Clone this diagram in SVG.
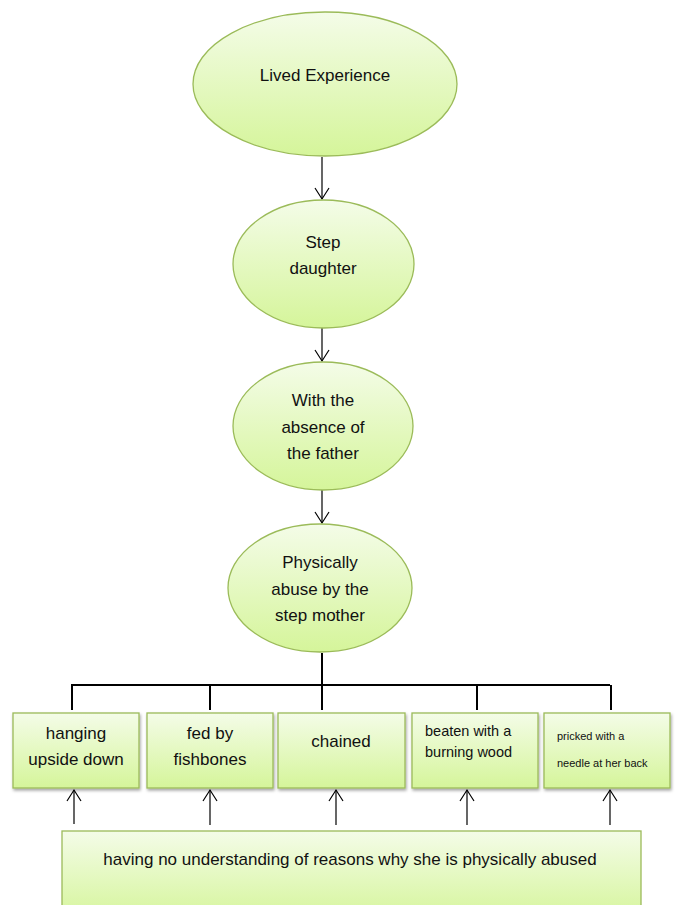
<svg xmlns="http://www.w3.org/2000/svg" width="676" height="905" viewBox="0 0 676 905">
<style>
.n{fill:url(#g);stroke:#9bbb59;stroke-width:1.3}
.t{font-family:"Liberation Sans",Arial,sans-serif;font-size:17px;fill:#111;text-anchor:middle}
.l{text-anchor:start}
.c{stroke:#000;stroke-width:1.2;fill:none}
.k{stroke:#000;stroke-width:2;fill:none}
</style>
<defs>
<linearGradient id="g" x1="0" y1="0" x2="0" y2="1">
<stop offset="0" stop-color="#f4fce8"/>
<stop offset="1" stop-color="#d5f59a"/>
</linearGradient>
<filter id="sh" x="-10%" y="-10%" width="125%" height="130%">
<feDropShadow dx="1" dy="2" stdDeviation="1.5" flood-color="#000" flood-opacity="0.35"/>
</filter>
<marker id="a" markerWidth="16" markerHeight="16" refX="13" refY="8" orient="auto" markerUnits="userSpaceOnUse" viewBox="0 0 16 16">
<path d="M2,1 L13,8 L2,15" fill="none" stroke="#000" stroke-width="1.2"/>
</marker>
</defs>
<g id="connectors">
<line class="c" x1="322" y1="157" x2="322" y2="199" marker-end="url(#a)"/>
<line class="c" x1="322" y1="328" x2="322" y2="361" marker-end="url(#a)"/>
<line class="c" x1="322" y1="490" x2="322" y2="523" marker-end="url(#a)"/>
<path class="k" d="M322,653 V685 M72,710 V685 H610 M210,685 V710 M322,685 V710 M477,685 V710 M611,685 V710"/>
<line class="c" x1="74" y1="824" x2="74" y2="790" marker-end="url(#a)"/>
<line class="c" x1="210" y1="825" x2="210" y2="790" marker-end="url(#a)"/>
<line class="c" x1="336" y1="825" x2="336" y2="790" marker-end="url(#a)"/>
<line class="c" x1="467" y1="825" x2="467" y2="790" marker-end="url(#a)"/>
<line class="c" x1="610" y1="825" x2="610" y2="790" marker-end="url(#a)"/>
</g>
<g id="n1"><ellipse class="n" cx="325" cy="84" rx="132" ry="72"/><text class="t" x="325" y="81">Lived Experience</text></g>
<g id="n2"><ellipse class="n" cx="323.5" cy="264" rx="90.5" ry="64"/><text class="t" x="323" y="248">Step</text><text class="t" x="323" y="274">daughter</text></g>
<g id="n3"><ellipse class="n" cx="323" cy="426" rx="90" ry="64"/><text class="t" x="323" y="406">With the</text><text class="t" x="323" y="433">absence of</text><text class="t" x="323" y="459">the father</text></g>
<g id="n4"><ellipse class="n" cx="320" cy="588" rx="92" ry="64"/><text class="t" x="320" y="568">Physically</text><text class="t" x="320" y="595">abuse by the</text><text class="t" x="320" y="621">step mother</text></g>
<g id="b1"><rect class="n" x="13" y="713" width="126" height="75" filter="url(#sh)"/><text class="t" x="76" y="739">hanging</text><text class="t" x="76" y="765">upside down</text></g>
<g id="b2"><rect class="n" x="147" y="713" width="126" height="75" filter="url(#sh)"/><text class="t" x="210" y="739">fed by</text><text class="t" x="210" y="765">fishbones</text></g>
<g id="b3"><rect class="n" x="278" y="713" width="127" height="75" filter="url(#sh)"/><text class="t" x="341" y="747">chained</text></g>
<g id="b4"><rect class="n" x="412" y="713" width="126" height="75" filter="url(#sh)"/><text class="t l" x="425" y="736" style="font-size:14.5px">beaten with a</text><text class="t l" x="425" y="757" style="font-size:14.5px">burning wood</text></g>
<g id="b5"><rect class="n" x="544" y="713" width="126" height="75" filter="url(#sh)"/><text class="t l" x="557" y="740" style="font-size:11px">pricked with a</text><text class="t l" x="557" y="767" style="font-size:11px">needle at her back</text></g>
<g id="b6"><rect class="n" x="62" y="831" width="579" height="90"/><text class="t" x="350" y="865">having no understanding of reasons why she is physically abused</text></g>
</svg>
